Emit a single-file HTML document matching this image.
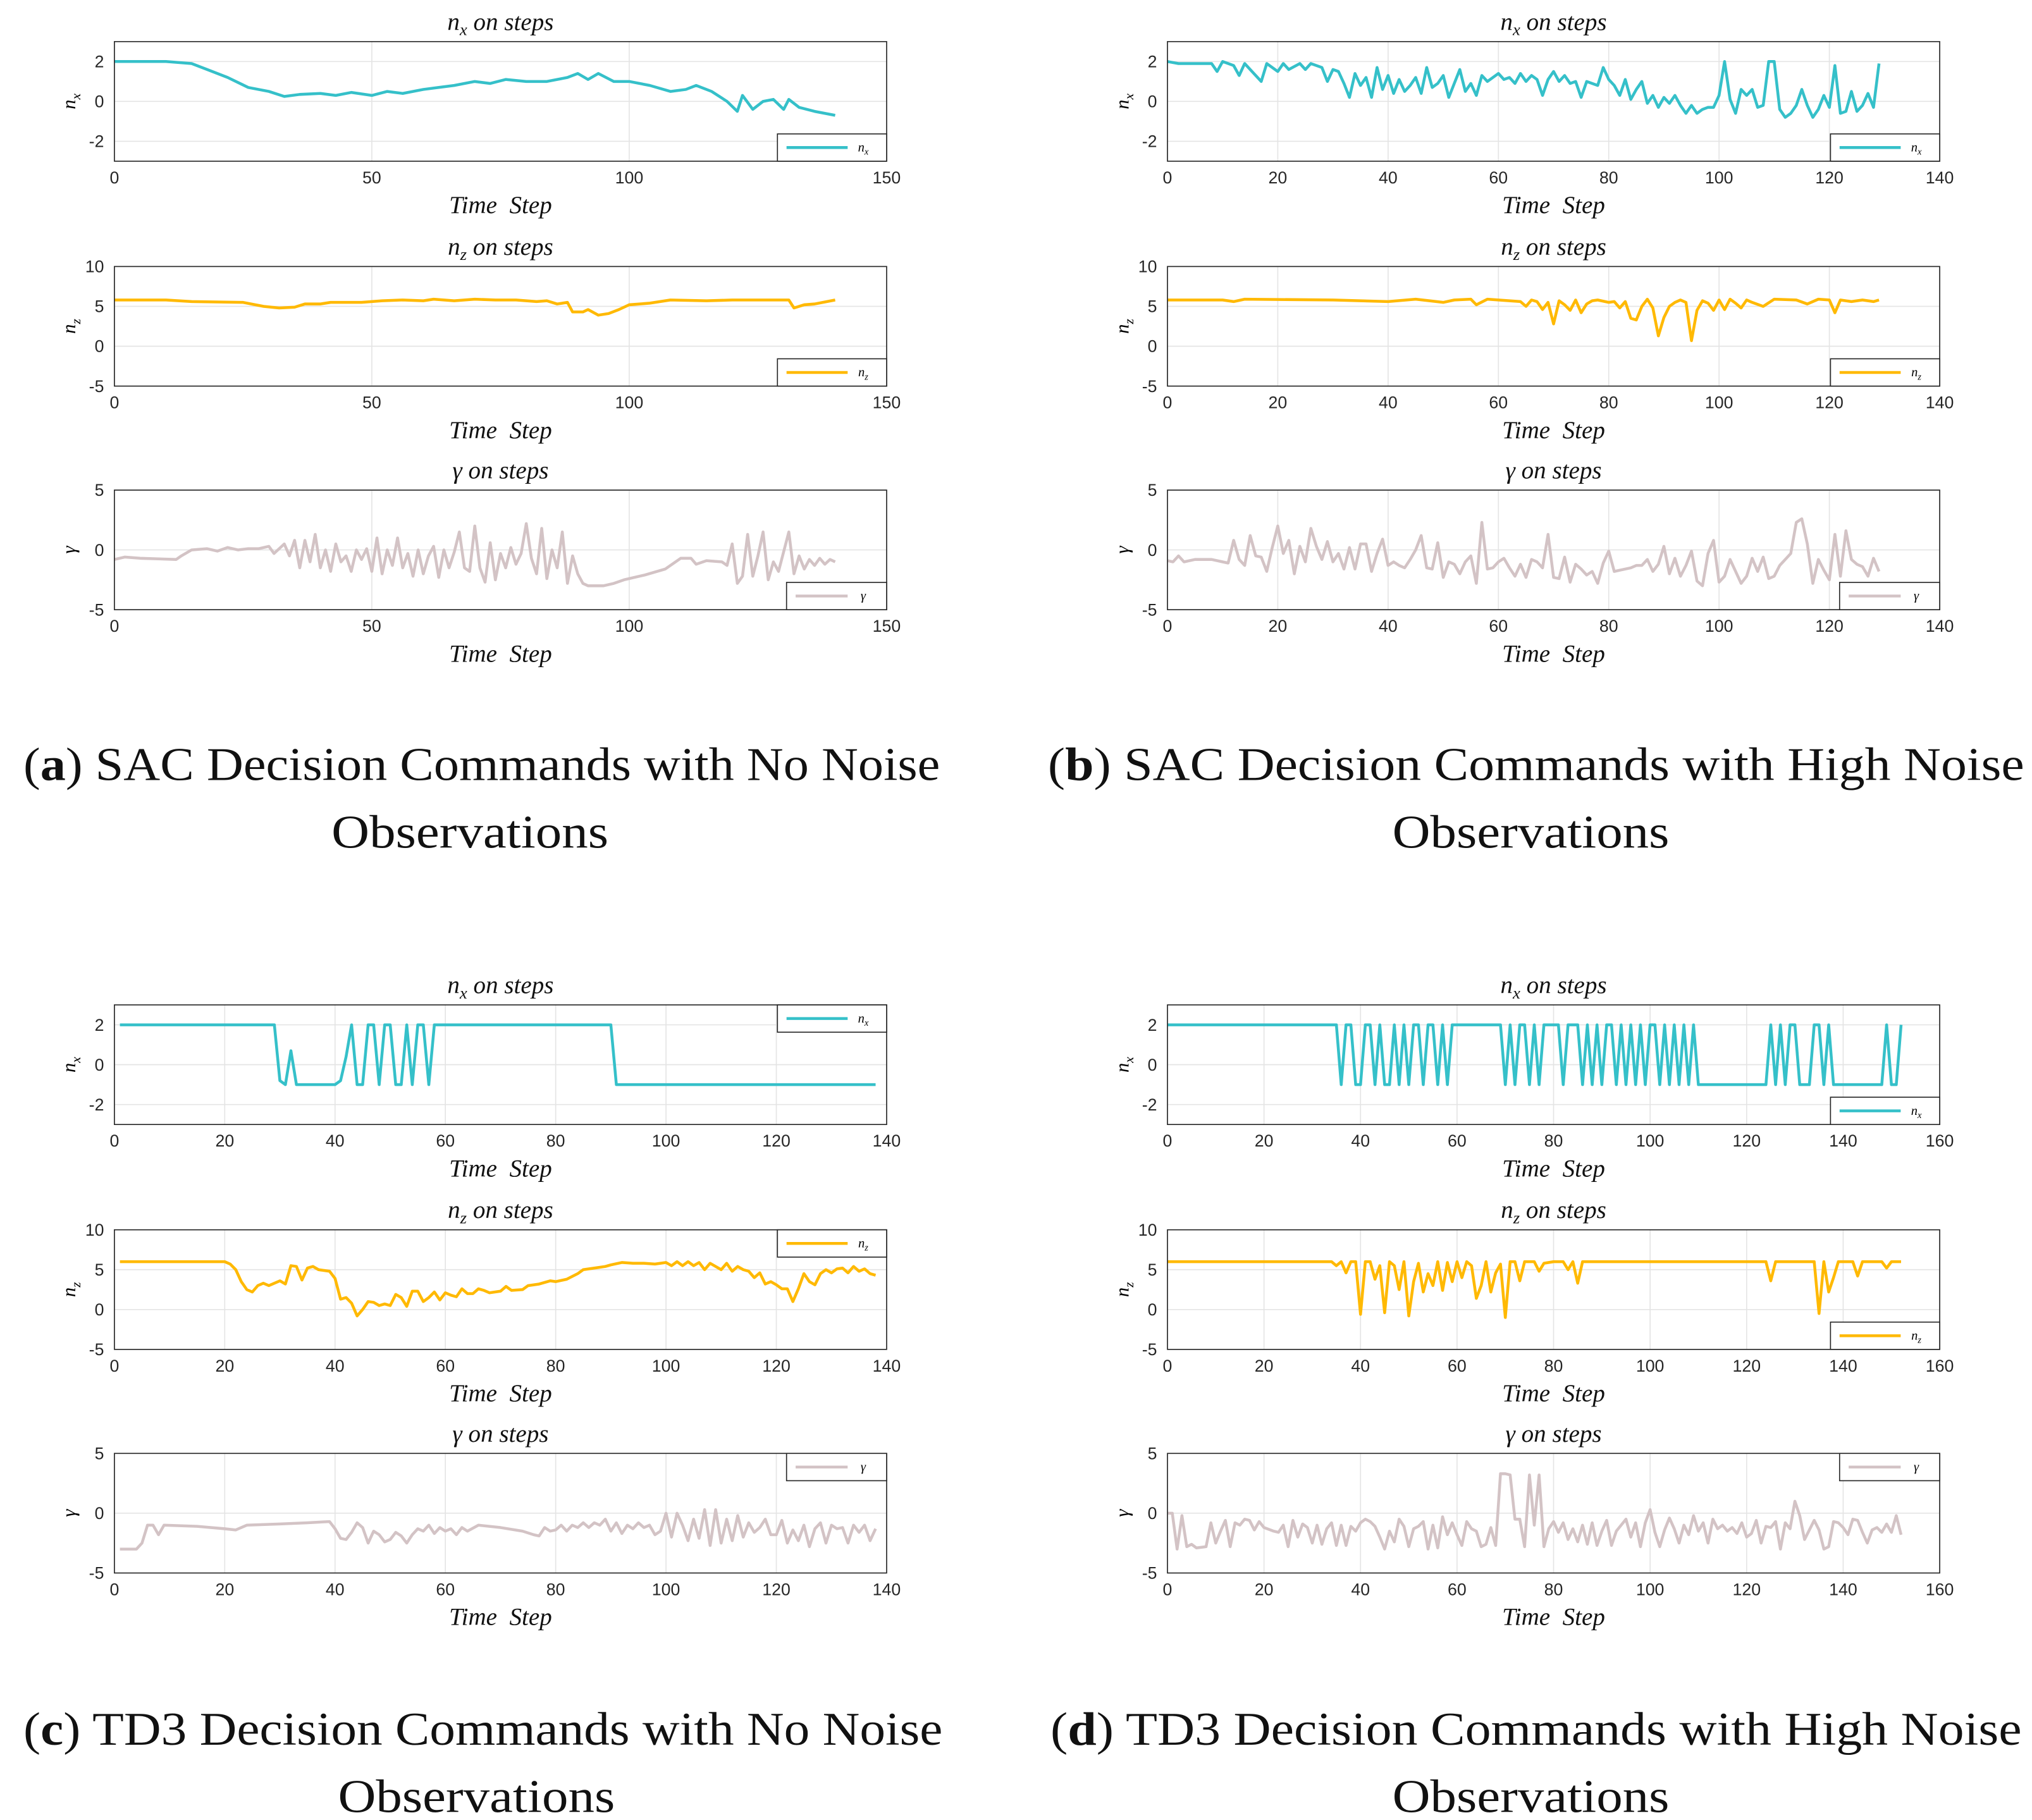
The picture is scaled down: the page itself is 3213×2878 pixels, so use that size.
<!DOCTYPE html>
<html><head><meta charset="utf-8">
<style>
html,body{margin:0;padding:0;background:#fff;}
svg{display:block;}
.tk{font-family:"Liberation Sans",sans-serif;font-size:13px;fill:#262626;}
.ti{font-family:"Liberation Serif",serif;font-style:italic;font-size:19px;fill:#111;}
.cap{font-family:"Liberation Serif",serif;font-size:36px;fill:#111;}
</style></head>
<body>
<svg id="fig" width="3213" height="2878" viewBox="0 0 1563 1400" preserveAspectRatio="none" xmlns="http://www.w3.org/2000/svg">
<text class="cap" x="18" y="600" textLength="705" lengthAdjust="spacingAndGlyphs">(<tspan font-weight="bold">a</tspan>) SAC Decision Commands with No Noise</text>
<text class="cap" x="255" y="652" textLength="213" lengthAdjust="spacingAndGlyphs">Observations</text>
<text class="cap" x="806" y="600" textLength="751" lengthAdjust="spacingAndGlyphs">(<tspan font-weight="bold">b</tspan>) SAC Decision Commands with High Noise</text>
<text class="cap" x="1071" y="652" textLength="213" lengthAdjust="spacingAndGlyphs">Observations</text>
<text class="cap" x="18" y="1342" textLength="707" lengthAdjust="spacingAndGlyphs">(<tspan font-weight="bold">c</tspan>) TD3 Decision Commands with No Noise</text>
<text class="cap" x="260" y="1394" textLength="213" lengthAdjust="spacingAndGlyphs">Observations</text>
<text class="cap" x="808" y="1342" textLength="747" lengthAdjust="spacingAndGlyphs">(<tspan font-weight="bold">d</tspan>) TD3 Decision Commands with High Noise</text>
<text class="cap" x="1071" y="1394" textLength="213" lengthAdjust="spacingAndGlyphs">Observations</text>
</svg>
<script>
const aNx=[[0,2],[10,2],[15,1.9],[18,1.6],[22,1.2],[26,0.7],[30,0.5],[33,0.25],[36,0.35],[40,0.4],[43,0.3],[46,0.45],[50,0.3],[53,0.5],[56,0.4],[60,0.6],[63,0.7],[66,0.8],[70,1.0],[73,0.9],[76,1.1],[80,1.0],[84,1.0],[88,1.2],[90,1.4],[92,1.1],[94,1.4],[97,1.0],[100,1.0],[104,0.8],[108,0.5],[111,0.6],[113,0.8],[116,0.5],[119,0.0],[121,-0.5],[122,0.3],[124,-0.4],[126,0.0],[128,0.1],[130,-0.4],[131,0.1],[133,-0.3],[136,-0.5],[140,-0.7]];
const aNz=[[0,5.8],[10,5.8],[15,5.6],[25,5.5],[29,5],[32,4.8],[35,4.9],[37,5.3],[40,5.3],[42,5.5],[48,5.5],[52,5.7],[56,5.8],[60,5.7],[62,5.9],[66,5.7],[70,5.9],[74,5.8],[78,5.8],[82,5.6],[84,5.7],[86,5.3],[88,5.5],[89,4.3],[91,4.3],[92,4.6],[94,3.9],[96,4.1],[98,4.6],[100,5.2],[104,5.4],[108,5.8],[115,5.7],[120,5.8],[131,5.8],[132,4.8],[134,5.2],[136,5.3],[140,5.8]];
const aGamma=[[0,-0.8],[2,-0.6],[5,-0.7],[12,-0.8],[13,-0.5],[15,0],[18,0.1],[20,-0.1],[22,0.2],[24,0],[26,0.1],[28,0.1],[30,0.3],[31,-0.3],[33,0.5],[34,-0.5],[35,0.8],[36,-1.5],[37,0.8],[38,-1],[39,1.3],[40,-1.5],[41,0],[42,-1.8],[43,0.5],[44,-1],[45,-0.5],[46,-1.8],[47,0],[48,-0.8],[49,0.1],[50,-1.8],[51,1],[52,-2],[53,0],[54,-1.3],[55,1],[56,-1.5],[57,-0.3],[58,-2.2],[59,0],[60,-2],[61,-0.5],[62,0.3],[63,-2.3],[64,0],[65,-1.5],[66,-0.2],[67,1.5],[68,-1.5],[69,-1.8],[70,2],[71,-1.5],[72,-2.7],[73,0.6],[74,-2.5],[75,-0.3],[76,-1.5],[77,0.2],[78,-1.2],[79,-0.3],[80,2.2],[81,-0.7],[82,-2],[83,1.8],[84,-2.4],[85,0],[86,-1.5],[87,1.5],[88,-2.8],[89,-0.5],[90,-2],[91,-2.8],[92,-3],[95,-3],[97,-2.8],[99,-2.5],[103,-2.1],[107,-1.6],[110,-0.7],[112,-0.7],[113,-1.2],[115,-0.9],[118,-1],[119,-1.3],[120,0.5],[121,-2.8],[122,-2.2],[123,1.3],[124,-2.2],[125,-0.5],[126,1.5],[127,-2.5],[128,-1],[129,-1.8],[131,1.5],[132,-2],[133,-0.5],[134,-1.6],[135,-0.8],[136,-1.3],[137,-0.7],[138,-1.2],[139,-0.8],[140,-1]];
const bNx=[[0,2],[2,1.9],[5,1.9],[8,1.9],[9,1.5],[10,2],[12,1.8],[13,1.3],[14,1.9],[15,1.6],[17,1.0],[18,1.9],[19,1.7],[20,1.5],[21,1.9],[22,1.6],[24,1.9],[25,1.6],[26,1.9],[28,1.7],[29,1],[30,1.6],[31,1.5],[32,0.9],[33,0.2],[34,1.4],[35,0.8],[36,1.2],[37,0.2],[38,1.7],[39,0.6],[40,1.3],[41,0.4],[42,1.1],[43,0.5],[44,0.8],[45,1.2],[46,0.4],[47,1.7],[48,0.7],[49,0.9],[50,1.3],[51,0.2],[52,0.9],[53,1.6],[54,0.5],[55,0.9],[56,0.3],[57,1.3],[58,1.0],[60,1.4],[61,1.1],[62,1.2],[63,0.9],[64,1.4],[65,1.0],[66,1.3],[67,1.1],[68,0.3],[69,1.1],[70,1.5],[71,1.0],[72,1.3],[73,0.9],[74,1.0],[75,0.2],[76,1.0],[78,0.8],[79,1.7],[80,1.1],[81,0.8],[82,0.3],[83,1.1],[84,0.1],[85,0.6],[86,1.0],[87,-0.1],[88,0.3],[89,-0.3],[90,0.2],[91,-0.1],[92,0.3],[93,-0.2],[94,-0.6],[95,-0.2],[96,-0.6],[97,-0.4],[98,-0.3],[99,-0.3],[100,0.3],[101,2],[102,0.1],[103,-0.6],[104,0.6],[105,0.3],[106,0.6],[107,-0.3],[108,-0.2],[109,2],[110,2],[111,-0.4],[112,-0.8],[113,-0.6],[114,-0.2],[115,0.6],[116,-0.2],[117,-0.8],[118,-0.4],[119,0.3],[120,-0.3],[121,1.8],[122,-0.6],[123,-0.5],[124,0.5],[125,-0.5],[126,-0.2],[127,0.4],[128,-0.3],[129,1.9]];
const bNz=[[0,5.8],[10,5.8],[12,5.6],[14,5.9],[30,5.8],[40,5.6],[45,5.9],[50,5.5],[52,5.8],[55,5.9],[56,5.2],[58,5.9],[64,5.6],[65,5.0],[66,5.8],[67,5.6],[68,4.6],[69,5.5],[70,2.8],[71,5.7],[72,5.2],[73,4.5],[74,5.8],[75,4.2],[76,5.3],[77,5.7],[78,5.8],[80,5.5],[81,5.6],[82,4.8],[83,5.6],[84,3.5],[85,3.3],[86,5.0],[87,5.9],[88,4.8],[89,1.3],[90,3.6],[91,5.0],[92,5.5],[93,5.8],[94,5.5],[95,0.7],[96,4.5],[97,5.7],[98,5.4],[99,4.5],[100,5.8],[101,4.6],[102,5.9],[103,5.4],[104,4.8],[105,5.8],[106,5.5],[108,5.0],[110,5.9],[114,5.8],[116,5.3],[118,5.9],[120,5.8],[121,4.2],[122,5.8],[124,5.6],[126,5.8],[128,5.6],[129,5.8]];
const bGamma=[[0,-0.9],[1,-1],[2,-0.5],[3,-1],[5,-0.8],[8,-0.8],[10,-1],[11,-1.1],[12,0.8],[13,-0.8],[14,-1.3],[15,1.2],[16,-0.5],[17,-0.6],[18,-1.8],[19,0.2],[20,2.0],[21,-0.3],[22,0.8],[23,-2],[24,0.3],[25,-1],[26,1.8],[27,0.3],[28,-0.8],[29,0.7],[30,-1],[31,-0.3],[32,-1.6],[33,0.2],[34,-1.6],[35,0.5],[36,0.5],[37,-1.8],[38,-0.3],[39,0.9],[40,-1.3],[41,-1],[42,-1.3],[43,-1.5],[44,-0.8],[45,0],[46,1.2],[47,-1.5],[48,-1.6],[49,0.6],[50,-2.3],[51,-1],[52,-1.2],[53,-2],[54,-1],[55,-0.5],[56,-2.8],[57,2.3],[58,-1.6],[59,-1.5],[60,-1],[61,-0.7],[62,-1.5],[63,-2.2],[64,-1.2],[65,-2.3],[66,-0.8],[67,-1],[68,-1.5],[69,1.3],[70,-2.3],[71,-2.4],[72,-0.6],[73,-2.7],[74,-1.2],[75,-1.6],[76,-2.1],[77,-1.8],[78,-2.8],[79,-1.1],[80,-0.1],[81,-1.8],[82,-1.7],[84,-1.5],[85,-1.3],[86,-1.3],[87,-0.8],[88,-1.8],[89,-1.2],[90,0.3],[91,-2],[92,-0.7],[93,-2.2],[94,-1.3],[95,-0.1],[96,-2.6],[97,-3],[98,-0.3],[99,0.8],[100,-2.7],[101,-2.2],[102,-0.8],[103,-1.8],[104,-2.8],[105,-2.2],[106,-0.7],[107,-1.8],[108,-0.6],[109,-2.4],[110,-2.2],[111,-1.3],[113,-0.3],[114,2.3],[115,2.6],[116,0.5],[117,-2.8],[118,-0.8],[119,-1.7],[120,-2.5],[121,1.3],[122,-2.2],[123,1.6],[124,-0.8],[125,-1.2],[126,-1.4],[127,-2.2],[128,-0.7],[129,-1.8]];
const cNx=[[1,2],[29,2],[30,-0.8],[31,-1],[32,0.7],[33,-1],[40,-1],[41,-0.8],[42,0.4],[43,2],[44,-1],[45,-1],[46,2],[47,2],[48,-1],[49,2],[50,2],[51,-1],[52,-1],[53,2],[54,-1],[55,2],[56,2],[57,-1],[58,2],[89,2],[90,2],[91,-1],[138,-1]];
const cNz=[[1,6],[20,6],[21,5.7],[22,5],[23,3.5],[24,2.5],[25,2.2],[26,3],[27,3.3],[28,3],[29,3.3],[30,3.6],[31,3.2],[32,5.5],[33,5.4],[34,3.7],[35,5.2],[36,5.4],[37,5],[38,4.9],[39,4.8],[40,3.9],[41,1.3],[42,1.5],[43,0.8],[44,-0.8],[45,0],[46,1],[47,0.9],[48,0.5],[49,0.7],[50,0.5],[51,1.9],[52,1.5],[53,0.4],[54,2.3],[55,2.3],[56,1],[57,1.5],[58,2.2],[59,1.2],[60,2.1],[61,1.8],[62,1.6],[63,2.6],[64,2],[65,2],[66,2.6],[67,2.4],[68,2.1],[70,2.3],[71,2.9],[72,2.4],[74,2.5],[75,3],[77,3.2],[79,3.6],[80,3.5],[82,3.8],[84,4.5],[85,5],[87,5.2],[89,5.4],[90,5.6],[92,5.9],[94,5.8],[96,5.8],[98,5.7],[100,5.9],[101,5.5],[102,6],[103,5.5],[104,6],[105,5.5],[106,5.9],[107,5],[108,5.8],[109,5.4],[110,5],[111,5.8],[112,4.8],[113,5.4],[114,5],[115,4.8],[116,4],[117,4.6],[118,3.2],[119,3.5],[120,3.1],[121,2.6],[122,2.6],[123,1],[124,2.6],[125,4.5],[126,3.5],[127,3.1],[128,4.5],[129,5],[130,4.6],[131,5.1],[132,5.2],[133,4.6],[134,5.4],[135,4.8],[136,5.1],[137,4.5],[138,4.3]];
const cGamma=[[1,-3],[4,-3],[5,-2.5],[6,-1],[7,-1],[8,-1.8],[9,-1],[15,-1.1],[20,-1.3],[22,-1.4],[24,-1],[30,-0.9],[35,-0.8],[39,-0.7],[40,-1.3],[41,-2.1],[42,-2.2],[43,-1.6],[44,-0.8],[45,-1.2],[46,-2.5],[47,-1.5],[48,-1.8],[49,-2.4],[50,-2.2],[51,-1.6],[52,-1.9],[53,-2.5],[54,-1.8],[55,-1.3],[56,-1.5],[57,-1],[58,-1.7],[59,-1.2],[60,-1.5],[61,-1.3],[62,-1.8],[63,-1.2],[64,-1.5],[66,-1],[70,-1.2],[74,-1.5],[76,-1.8],[77,-1.9],[78,-1.2],[79,-1.5],[80,-1.4],[81,-1],[82,-1.5],[83,-1],[84,-1.2],[85,-0.8],[86,-1.2],[87,-0.8],[88,-1],[89,-0.5],[90,-1.5],[91,-0.8],[92,-1.7],[93,-1],[94,-1.3],[95,-0.8],[96,-1.2],[97,-1],[98,-1.8],[99,-1.5],[100,0],[101,-2],[102,0],[103,-1],[104,-2.3],[105,-0.5],[106,-2.1],[107,0.3],[108,-2.7],[109,0.3],[110,-2.5],[111,-0.5],[112,-2.3],[113,-0.2],[114,-2],[115,-0.8],[116,-1.6],[117,-1.2],[118,-0.5],[119,-1.8],[120,-1.8],[121,-0.6],[122,-2.5],[123,-1.4],[124,-2.3],[125,-1],[126,-2.8],[127,-1.3],[128,-0.8],[129,-2.5],[130,-1],[131,-1.3],[132,-1.2],[133,-2.5],[134,-1],[135,-1.6],[136,-1],[137,-2.3],[138,-1.3]];
const dNx=[[0,2],[35,2],[36,-1],[37,2],[38,2],[39,-1],[40,-1],[41,2],[42,2],[43,-1],[44,2],[45,-1],[46,-1],[47,2],[48,-1],[49,2],[50,-1],[51,2],[52,2],[53,-1],[54,2],[55,2],[56,-1],[57,2],[58,-1],[59,2],[69,2],[70,-1],[71,2],[72,-1],[73,2],[74,2],[75,-1],[76,2],[77,-1],[78,2],[81,2],[82,-1],[83,2],[85,2],[86,-1],[87,2],[88,-1],[89,2],[90,-1],[91,2],[92,2],[93,-1],[94,2],[95,-1],[96,2],[97,-1],[98,2],[99,-1],[100,2],[101,2],[102,-1],[103,2],[104,-1],[105,2],[106,-1],[107,2],[108,-1],[109,2],[110,-1],[111,-1],[124,-1],[125,2],[126,-1],[127,2],[128,-1],[129,2],[130,2],[131,-1],[133,-1],[134,2],[135,2],[136,-1],[137,2],[138,-1],[148,-1],[149,2],[150,-1],[151,-1],[152,2]];
const dNz=[[0,6],[33,6],[34,6],[35,5.5],[36,6],[37,4.6],[38,6],[39,6],[40,-0.6],[41,6],[42,6],[43,3.8],[44,5.5],[45,-0.4],[46,6],[47,5.5],[48,2.5],[49,6],[50,-0.8],[51,3.5],[52,5.8],[53,2.2],[54,4.5],[55,3],[56,6],[57,2.4],[58,5.9],[59,3.5],[60,6],[61,4],[62,6],[63,5.5],[64,1.4],[65,3],[66,6],[67,2.2],[68,4.6],[69,5.7],[70,-1],[71,6],[72,6],[73,3.6],[74,6],[76,6],[77,4.8],[78,5.8],[80,6],[82,6],[83,5],[84,6],[85,3.3],[86,6],[124,6],[125,3.6],[126,6],[134,6],[135,-0.5],[136,6],[137,2.2],[138,4],[139,6],[142,6],[143,4.2],[144,6],[148,6],[149,5.2],[150,6],[152,6]];
const dGamma=[[0,0],[1,0],[2,-3],[3,-0.2],[4,-2.8],[5,-2.6],[6,-2.9],[8,-2.8],[9,-0.8],[10,-2.5],[11,-1.5],[12,-0.6],[13,-2.8],[14,-0.8],[15,-1],[16,-0.5],[17,-0.6],[18,-1.4],[19,-0.7],[20,-1.2],[22,-1.5],[23,-1.6],[24,-1],[25,-2.8],[26,-0.6],[27,-2],[28,-0.9],[29,-1.2],[30,-2.5],[31,-1],[32,-2.6],[33,-1.3],[34,-0.8],[35,-2.7],[36,-1],[37,-2.7],[38,-1.1],[39,-1.5],[40,-0.8],[41,-0.5],[42,-0.7],[43,-1.1],[44,-2],[45,-3],[46,-1.5],[47,-2.4],[48,-0.5],[49,-1.1],[50,-2.8],[51,-1.3],[52,-1.1],[53,-0.7],[54,-3],[55,-1],[56,-2.9],[57,-0.3],[58,-1.8],[59,-0.8],[60,-1.8],[61,-2.7],[62,-0.7],[63,-1.3],[64,-1.5],[65,-2.8],[66,-2.6],[67,-1.2],[68,-2.7],[69,3.3],[70,3.3],[71,3.2],[72,-0.5],[73,-0.5],[74,-2.8],[75,3.2],[76,-1],[77,3.2],[78,-2.8],[79,-1.3],[80,-0.7],[81,-1.6],[82,-0.8],[83,-2.2],[84,-1.3],[85,-2.4],[86,-1],[87,-2.6],[88,-0.8],[89,-2.7],[90,-1.5],[91,-0.6],[92,-2.7],[93,-1.5],[94,-1],[95,-0.5],[96,-2],[97,-0.8],[98,-2.8],[99,-0.8],[100,0.3],[101,-1.6],[102,-2.8],[103,-1.4],[104,-0.4],[105,-1.3],[106,-2.5],[107,-1],[108,-1.8],[109,-0.2],[110,-1.5],[111,-0.8],[112,-2.5],[113,-0.5],[114,-1.3],[115,-1],[116,-1.5],[117,-1.2],[118,-1.7],[119,-0.8],[120,-2],[121,-1.7],[122,-0.6],[123,-2.5],[124,-1.1],[125,-1.2],[126,-0.7],[127,-3],[128,-0.8],[129,-1.3],[130,1],[131,-0.2],[132,-2.2],[133,-1.4],[134,-0.6],[135,-1.4],[136,-3],[137,-2.8],[138,-0.7],[139,-0.8],[140,-1.2],[141,-1.8],[142,-0.5],[143,-0.6],[144,-1.6],[145,-2.5],[146,-1.4],[147,-1.2],[148,-1.6],[149,-0.9],[150,-1.6],[151,-0.2],[152,-1.8]];
const xTicks150=[0,50,100,150];
const xTicks140=[0,20,40,60,80,100,120,140];
const xTicks160=[0,20,40,60,80,100,120,140,160];
const yTicksNx=[-2,0,2];
const yTicksNz=[-5,0,5,10];
const yTicksG=[-5,0,5];

const NS='http://www.w3.org/2000/svg';
const svg=document.getElementById('fig');
function mk(tag,attrs,parent){const e=document.createElementNS(NS,tag);for(const k in attrs)e.setAttribute(k,attrs[k]);(parent||svg).appendChild(e);return e;}
const W=594,H=92;
const COL={nx:'#35c0c9',nz:'#ffb902',g:'#d3c3c5'};
function sym(g,kind,x,y,size,anchor,cls,name){
  const t=mk('text',{x:x,y:y,'text-anchor':anchor,class:cls},g);
  
  
  t.setAttribute('font-family','"Liberation Serif",serif');t.setAttribute('font-style','italic');t.setAttribute('font-size',size);
  if(kind==='g'){t.textContent='γ';}
  else{const a=document.createElementNS(NS,'tspan');a.textContent='n';t.appendChild(a);
    const b=document.createElementNS(NS,'tspan');b.setAttribute('font-size',size*0.7);b.setAttribute('dy',size*0.25);b.textContent=kind==='nx'?'x':'z';t.appendChild(b);}
  return t;
}
function subplot(id,ox,top,xmax,xticks,ylo,yhi,yticks,data,kind,legendTop){
  const g=mk('g',{});
  
  
  const xs=v=>ox+v/xmax*W, ys=v=>top+(yhi-v)/(yhi-ylo)*H;
  mk('rect',{x:ox,y:top,width:W,height:H,fill:'#fff'},g);
  xticks.forEach(v=>{const l=mk('line',{x1:xs(v),x2:xs(v),y1:top,y2:top+H,stroke:'#e4e4e4','stroke-width':0.8},g);
    
    const t=mk('text',{x:xs(v),y:top+H+17,'text-anchor':'middle',class:'tk'},g);t.textContent=v;
    });
  yticks.forEach(v=>{const l=mk('line',{x1:ox,x2:ox+W,y1:ys(v),y2:ys(v),stroke:'#e4e4e4','stroke-width':0.8},g);
    
    const t=mk('text',{x:ox-8,y:ys(v)+4.5,'text-anchor':'end',class:'tk'},g);t.textContent=v;
    });
  const pts=data.map(p=>xs(p[0]).toFixed(2)+','+ys(p[1]).toFixed(2)).join(' ');
  const pl=mk('polyline',{points:pts,fill:'none',stroke:COL[kind],'stroke-width':2.2,'stroke-linejoin':'round'},g);
  
  const fr=mk('rect',{x:ox,y:top,width:W,height:H,fill:'none',stroke:'#262626','stroke-width':0.8},g);
  
  const tt=mk('text',{x:ox+W/2,y:top-9,'text-anchor':'middle',class:'ti'},g);
  
  if(kind==='g'){tt.textContent='γ on steps';}
  else{const a=document.createElementNS(NS,'tspan');a.textContent='n';tt.appendChild(a);
    const b=document.createElementNS(NS,'tspan');b.setAttribute('font-size',13);b.setAttribute('dy',4);b.textContent=kind==='nx'?'x':'z';tt.appendChild(b);
    const c=document.createElementNS(NS,'tspan');c.setAttribute('dy',-4);c.textContent=' on steps';tt.appendChild(c);}
  const xl=mk('text',{x:ox+W/2,y:top+H+40,'text-anchor':'middle',class:'ti','font-size':17},g);
  
  xl.setAttribute('xml:space','preserve');xl.textContent='Time  Step';xl.style.whiteSpace='pre';
  const yl=sym(g,kind,0,0,15,'middle','','y-axis-title');
  yl.setAttribute('transform','translate('+(ox-30)+','+(top+H/2)+') rotate(-90)');
  const lw=kind==='g'?77:84, lh=21, lx=ox+W-lw, ly=legendTop?top:top+H-lh;
  const lg=mk('g',{},g);
  mk('rect',{x:lx,y:ly,width:lw,height:lh,fill:'#fff',stroke:'#262626','stroke-width':0.8},lg);
  mk('line',{x1:lx+7,x2:lx+lw-30,y1:ly+lh/2,y2:ly+lh/2,stroke:COL[kind],'stroke-width':2.2},lg);
  sym(lg,kind,lx+lw-18,ly+lh/2+3,10,'middle','','legend-label');
}
const L=88,R=898;
const panels=[
 ['a',L,0,150,xTicks150,aNx,aNz,aGamma,[false,false,false]],
 ['b',R,0,140,xTicks140,bNx,bNz,bGamma,[false,false,false]],
 ['c',L,741,140,xTicks140,cNx,cNz,cGamma,[true,true,true]],
 ['d',R,741,160,xTicks160,dNx,dNz,dGamma,[false,false,true]]];
panels.forEach(p=>{
  subplot(p[0],p[1],32+p[2],p[3],p[4],-3,3,yTicksNx,p[5],'nx',p[8][0]);
  subplot(p[0],p[1],205+p[2],p[3],p[4],-5,10,yTicksNz,p[6],'nz',p[8][1]);
  subplot(p[0],p[1],377+p[2],p[3],p[4],-5,5,yTicksG,p[7],'g',p[8][2]);
});
</script>
</body></html>
